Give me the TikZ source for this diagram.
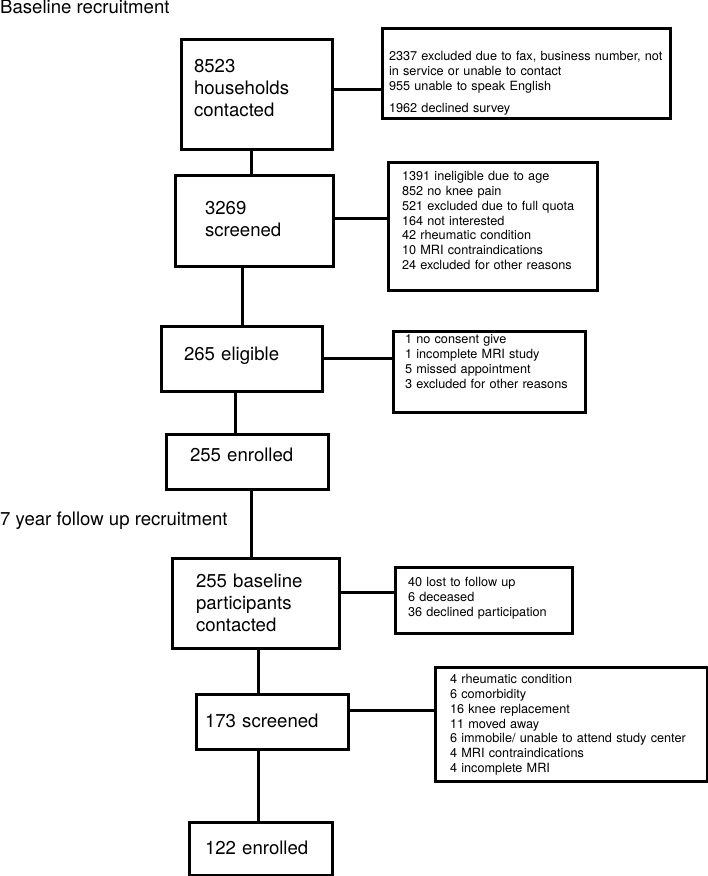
\documentclass[tikz,border=0pt]{standalone}
\usepackage{fontspec}
\setmainfont{TeX Gyre Heros}
\usetikzlibrary{positioning}
\tikzset{>=stealth}
\tikzset{
  stage/.style={draw, line width=3pt, outer sep=0pt, inner ysep=0pt, anchor=north west, align=left, font=\fontsize{18.6}{22}\selectfont},
  drop/.style={stage, font=\fontsize{12.7}{14.8}\selectfont},
  heading/.style={anchor=base west, inner sep=0pt, font=\fontsize{18.6}{22}\selectfont},
  link/.style={line width=3pt}
}

\begin{document}
\begin{tikzpicture}[x=1pt,y=-1pt]
\useasboundingbox (0,0) rectangle (708,876);
\node[heading] (tbase) at (0,13.5) {Baseline recruitment};
\node[stage, text width=125pt, inner xsep=13pt, text height=33.7pt, text depth=76.3pt] (hh) at (181,39) {8523\\households\\contacted};
\node[stage, text width=98pt, inner xsep=30pt, text height=39.7pt, text depth=51.3pt] (scr) at (175,175) {3269\\screened};
\node[stage, text width=115pt, inner xsep=23pt, text height=34.7pt, text depth=30.3pt] (elig) at (161,326) {265 eligible};
\node[stage, text width=114pt, inner xsep=24pt, text height=27.7pt, text depth=27.3pt] (enr) at (166,434) {255 enrolled};
\node[heading] (tfollow) at (0,525.7) {7 year follow up recruitment};
\node[stage, text width=119pt, inner xsep=24pt, text height=29.7pt, text depth=60.3pt] (fu) at (172,558) {255 baseline\\participants\\contacted};
\node[stage, text width=134pt, inner xsep=9pt, text height=33.7pt, text depth=21.3pt] (fuscr) at (196,694) {173 screened};
\node[stage, text width=111pt, inner xsep=16pt, text height=32.7pt, text depth=20.3pt] (fuenr) at (189,822) {122 enrolled};

\node[drop, text width=274pt, inner xsep=7pt, text height=32.6pt, text depth=57.4pt] (xhh) at (382,28) {2337 excluded due to fax, business number, not\\in service or unable to contact\\955 unable to speak English\\[7.2pt]1962 declined survey};
\node[drop, text width=181pt, inner xsep=14pt, text height=18.6pt, text depth=109.4pt] (xscr) at (388,162) {1391 ineligible due to age\\852 no knee pain\\521 excluded due to full quota\\164 not interested\\42 rheumatic condition\\10 MRI contraindications\\24 excluded for other reasons};
\node[drop, text width=168pt, inner xsep=12pt, text height=12.6pt, text depth=68.4pt] (xelig) at (393,331) {1 no consent give\\1 incomplete MRI study\\5 missed appointment\\3 excluded for other reasons};
\node[drop, text width=151pt, inner xsep=13pt, text height=19.6pt, text depth=46.4pt] (xfu) at (395,567) {40 lost to follow up\\6 deceased\\36 declined participation};
\node[drop, text width=242pt, inner xsep=15pt, text height=16.6pt, text depth=97.4pt] (xfuscr) at (435,667) {4 rheumatic condition\\6 comorbidity\\16 knee replacement\\11 moved away\\6 immobile/ unable to attend study center\\4 MRI contraindications\\4 incomplete MRI};

\coordinate (v1) at (251,0);
\coordinate (v2) at (242,0);
\coordinate (v3) at (235,0);
\coordinate (v5) at (258,0);
\coordinate (h1) at (0,89);
\coordinate (h2) at (0,218);
\coordinate (h3) at (0,358);
\coordinate (h4) at (0,592);
\coordinate (h5) at (0,710);

\foreach \a/\b/\c in {hh/scr/v1, scr/elig/v2, elig/enr/v3, enr/fu/v1, fu/fuscr/v5, fuscr/fuenr/v5}
  \draw[link] (\a.south -| \c) -- (\b.north -| \c);
\foreach \a/\b/\c in {hh/xhh/h1, scr/xscr/h2, elig/xelig/h3, fu/xfu/h4, fuscr/xfuscr/h5}
  \draw[link] (\a.east |- \c) -- (\b.west |- \c);
\end{tikzpicture}
\end{document}
